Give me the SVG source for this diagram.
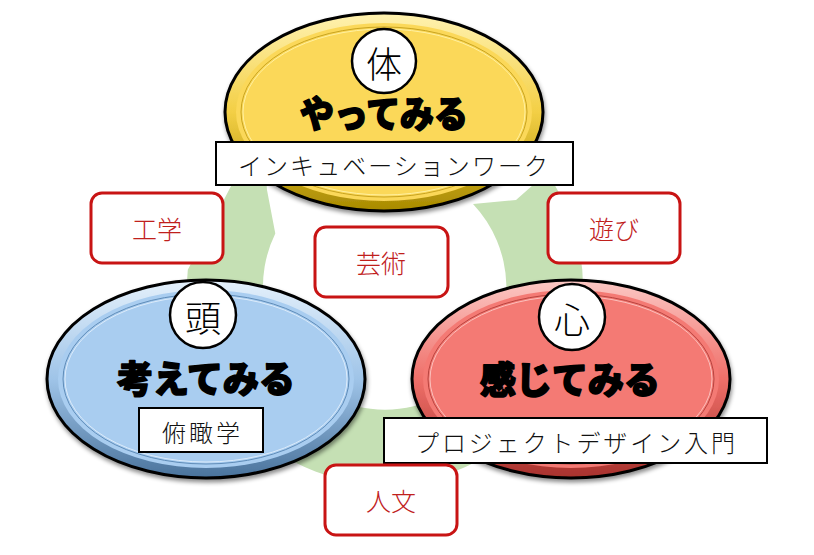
<svg xmlns="http://www.w3.org/2000/svg" width="814" height="555" viewBox="0 0 814 555">
<defs>
<style>
.ring{fill:#c5e0b4;}
.rim{stroke:#000;stroke-width:3;}
.flatline{fill:none;stroke-width:1;}
.badge{fill:#fff;stroke:#000;stroke-width:2.5;}
.badgetxt{font-family:"Noto Sans CJK JP","Noto Sans CJK SC",sans-serif;font-size:36px;font-weight:300;fill:#000;text-anchor:middle;dominant-baseline:central;}
.head{font-family:"Noto Sans CJK JP","Noto Sans CJK SC",sans-serif;font-size:37px;font-weight:900;fill:#000;stroke:#000;stroke-width:1.6;stroke-linejoin:round;text-anchor:middle;dominant-baseline:central;}
.lbox{fill:#fff;stroke:#000;stroke-width:2;}
.ltxt{font-family:"Noto Sans CJK JP","Noto Sans CJK SC",sans-serif;font-size:24px;font-weight:300;fill:#111;text-anchor:middle;dominant-baseline:central;}
.rbox{fill:#fff;stroke:#c81414;stroke-width:3;}
.rtxt{font-family:"Noto Sans CJK JP","Noto Sans CJK SC",sans-serif;font-size:25px;font-weight:300;fill:#c0201c;text-anchor:middle;dominant-baseline:central;}
</style>
<filter id="sh" x="-10%" y="-10%" width="120%" height="130%">
<feDropShadow dx="1" dy="3" stdDeviation="2" flood-color="#000" flood-opacity="0.45"/>
</filter>
<linearGradient id="yRim" x1="0" y1="0" x2="0" y2="1">
<stop offset="0" stop-color="#fff2b0"/><stop offset="0.5" stop-color="#f3cf45"/><stop offset="1" stop-color="#a88a00"/>
</linearGradient>
<linearGradient id="bRim" x1="0" y1="0" x2="0" y2="1">
<stop offset="0" stop-color="#e4f0fb"/><stop offset="0.5" stop-color="#9fc4e8"/><stop offset="1" stop-color="#4a739c"/>
</linearGradient>
<linearGradient id="rRim" x1="0" y1="0" x2="0" y2="1">
<stop offset="0" stop-color="#fcc8c4"/><stop offset="0.5" stop-color="#ef6f69"/><stop offset="1" stop-color="#a8322d"/>
</linearGradient>
</defs>
<rect width="814" height="555" fill="#fff"/>

<g id="connectors">
<path class="ring" d="M213.5,386 A198,198 0 0 1 187.8,269.7 L230,188 L262,132 L267,190 L275.3,233.5 A122,122 0 0 0 291.5,365.4 Z"/>
<path class="ring" d="M473,204 L516,200 L533,185 L554.7,185 A198,198 0 0 1 556.5,386 L478.5,365.4 A122,122 0 0 0 473,204 Z"/>
<path class="ring" d="M547,400 A198,198 0 0 1 223,400 L286,359 A122,122 0 0 0 484,359 Z"/>
</g>

<g id="node-karada">
<ellipse class="rim" cx="384" cy="112" rx="159" ry="99" fill="url(#yRim)" filter="url(#sh)"/>
<ellipse cx="384" cy="112" rx="148" ry="89" fill="#fbd859"/>
<ellipse class="flatline" cx="384" cy="112" rx="143" ry="85" stroke="#c9a420"/>
<ellipse class="flatline" cx="384" cy="112" rx="141" ry="83" stroke="#fff0a0"/>
<circle class="badge" cx="384" cy="61" r="32"/>
<text class="badgetxt" x="384" y="62">体</text>
<text class="head" x="384" y="112" textLength="168" lengthAdjust="spacingAndGlyphs">やってみる</text>
<rect class="lbox" x="216" y="142" width="357" height="43"/>
<text class="ltxt" x="393" y="164" textLength="310" lengthAdjust="spacing">インキュベーションワーク</text>
</g>

<g id="node-atama">
<ellipse class="rim" cx="206" cy="379" rx="159" ry="99" fill="url(#bRim)" filter="url(#sh)"/>
<ellipse cx="206" cy="379" rx="148" ry="89" fill="#a9cdf0"/>
<ellipse class="flatline" cx="206" cy="379" rx="143" ry="85" stroke="#5f8cb8"/>
<ellipse class="flatline" cx="206" cy="379" rx="141" ry="83" stroke="#dcebfa"/>
<circle class="badge" cx="203" cy="315" r="33"/>
<text class="badgetxt" x="203" y="316">頭</text>
<text class="head" x="206" y="377" textLength="178" lengthAdjust="spacingAndGlyphs">考えてみる</text>
<rect class="lbox" x="139" y="408" width="124" height="44"/>
<text class="ltxt" x="201" y="431" textLength="78" lengthAdjust="spacing">俯瞰学</text>
</g>

<g id="node-kokoro">
<ellipse class="rim" cx="571" cy="379" rx="159" ry="99" fill="url(#rRim)" filter="url(#sh)"/>
<ellipse cx="571" cy="379" rx="148" ry="89" fill="#f47a74"/>
<ellipse class="flatline" cx="571" cy="379" rx="143" ry="85" stroke="#b8443f"/>
<ellipse class="flatline" cx="571" cy="379" rx="141" ry="83" stroke="#fbc0bc"/>
<circle class="badge" cx="572" cy="317" r="33"/>
<text class="badgetxt" x="572" y="318">心</text>
<text class="head" x="570" y="378" textLength="180" lengthAdjust="spacingAndGlyphs">感じてみる</text>
<rect class="lbox" x="384" y="418" width="383" height="45"/>
<text class="ltxt" x="575" y="441" textLength="320" lengthAdjust="spacing">プロジェクトデザイン入門</text>
</g>

<g id="tag-kogaku">
<rect class="rbox" x="91" y="193" width="132" height="70" rx="11"/>
<text class="rtxt" x="157" y="228">工学</text>
</g>
<g id="tag-geijutsu">
<rect class="rbox" x="315" y="227" width="133" height="70" rx="11"/>
<text class="rtxt" x="381" y="262">芸術</text>
</g>
<g id="tag-asobi">
<rect class="rbox" x="548" y="193" width="132" height="70" rx="11"/>
<text class="rtxt" x="614" y="228">遊び</text>
</g>
<g id="tag-jinbun">
<rect class="rbox" x="325" y="465" width="132" height="70" rx="11"/>
<text class="rtxt" x="391" y="500">人文</text>
</g>
</svg>
